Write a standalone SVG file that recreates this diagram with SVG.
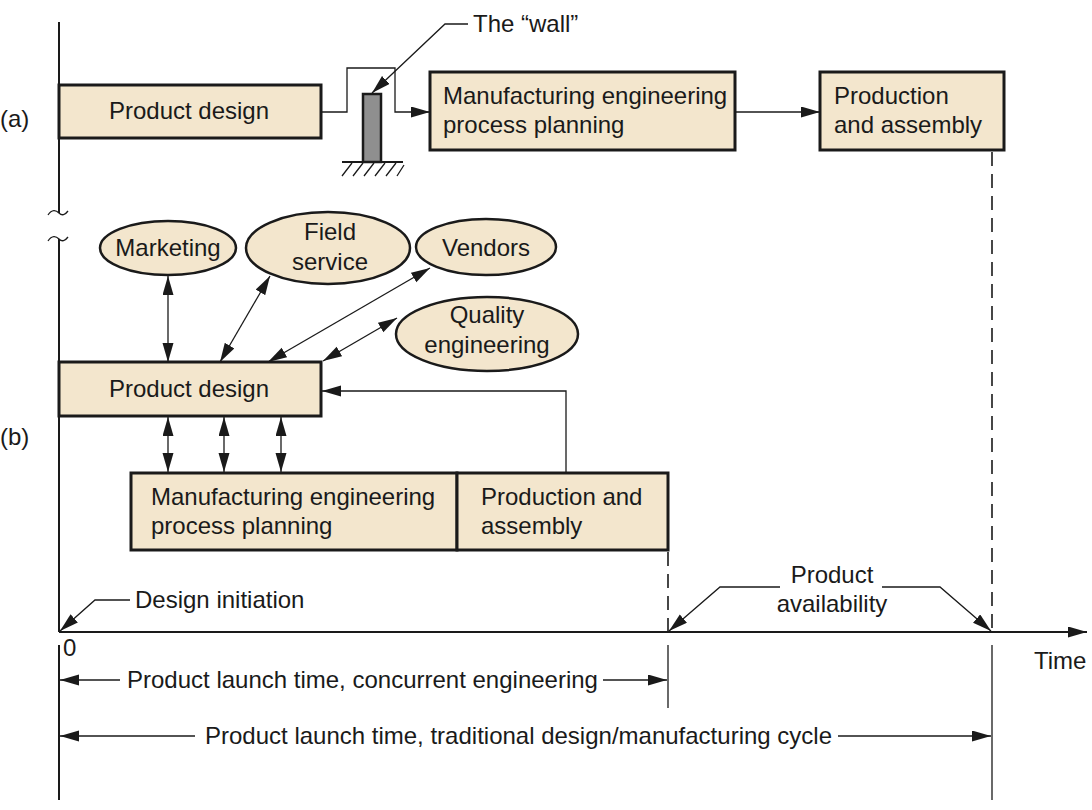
<svg xmlns="http://www.w3.org/2000/svg" width="1092" height="810" viewBox="0 0 1092 810">
<defs>
<marker id="ah" markerUnits="userSpaceOnUse" markerWidth="20" markerHeight="12" refX="19" refY="5.5" orient="auto-start-reverse">
<path d="M0,0 L19,5.5 L0,11 z" fill="#1a1a1a"/>
</marker>
</defs>
<style>
text{font-family:"Liberation Sans",Arial,sans-serif;font-size:24px;fill:#1a1a1a}
.box{fill:#f3e6cd;stroke:#1a1a1a;stroke-width:3}
.ell{fill:#f3e6cd;stroke:#1a1a1a;stroke-width:2.5}
.ln{fill:none;stroke:#1a1a1a;stroke-width:1.3}
.ax{fill:none;stroke:#1a1a1a;stroke-width:2}
.dash{fill:none;stroke:#1a1a1a;stroke-width:1.6;stroke-dasharray:14,8}
.c{text-anchor:middle}
</style>
<rect width="1092" height="810" fill="#ffffff"/>

<g id="axes">
<path class="ax" d="M59,22 V213 M59,239 V632 M59,645 V800"/>
<path class="ln" d="M48,215 C52,209 56,210 59,213 C62,216 65,215 68,211"/>
<path class="ln" d="M48,241 C52,235 56,236 59,239 C62,242 65,241 68,237"/>
<line class="ax" x1="59" y1="632" x2="1087" y2="632" marker-end="url(#ah)"/>
<path class="dash" d="M668,552 V632"/>
<path class="ln" d="M668,645 V708"/>
<path class="dash" d="M992,152 V632"/>
<path class="ln" d="M992,645 V800"/>
<text x="0" y="127">(a)</text>
<text x="0" y="445">(b)</text>
<text x="63" y="656">0</text>
<text x="1034" y="669">Time</text>
</g>

<g id="wall">
<rect x="363" y="94" width="18" height="68" fill="#8f8f8f" stroke="#1a1a1a" stroke-width="2.5"/>
<line x1="342" y1="162" x2="403" y2="162" stroke="#1a1a1a" stroke-width="2"/>
<path class="ln" d="M352,163 L342,176 M363,163 L353,176 M374,163 L364,176 M385,163 L375,176 M396,163 L386,176 M404,165 L397,176"/>
<text x="473" y="32">The “wall”</text>
</g>

<g id="a-product-design">
<rect class="box" x="59" y="85" width="262" height="53"/>
<text class="c" x="189" y="119">Product design</text>
</g>
<g id="a-manufacturing">
<rect class="box" x="430" y="72" width="305" height="78"/>
<text x="443" y="104">Manufacturing engineering</text>
<text x="443" y="133">process planning</text>
</g>
<g id="a-production">
<rect class="box" x="820" y="72" width="184" height="78"/>
<text x="834" y="104">Production</text>
<text x="834" y="133">and assembly</text>
</g>

<g id="marketing">
<ellipse class="ell" cx="168" cy="248" rx="68" ry="27"/>
<text class="c" x="168" y="256">Marketing</text>
</g>
<g id="field-service">
<ellipse class="ell" cx="328" cy="248" rx="82" ry="36"/>
<text class="c" x="330" y="240">Field</text>
<text class="c" x="330" y="270">service</text>
</g>
<g id="vendors">
<ellipse class="ell" cx="486" cy="247" rx="70" ry="28"/>
<text class="c" x="486" y="256">Vendors</text>
</g>
<g id="quality">
<ellipse class="ell" cx="487" cy="334" rx="91" ry="37"/>
<text class="c" x="487" y="323">Quality</text>
<text class="c" x="487" y="353">engineering</text>
</g>
<g id="b-product-design">
<rect class="box" x="59" y="362" width="262" height="54"/>
<text class="c" x="189" y="397">Product design</text>
</g>
<g id="b-manufacturing">
<rect class="box" x="131" y="473" width="326" height="77"/>
<text x="151" y="505">Manufacturing engineering</text>
<text x="151" y="534">process planning</text>
</g>
<g id="b-production">
<rect class="box" x="457" y="473" width="211" height="77"/>
<text x="481" y="505">Production and</text>
<text x="481" y="534">assembly</text>
</g>

<g id="connectors">
<polyline class="ln" points="321,112 347,112 347,68 395,68 395,112 430,112" marker-end="url(#ah)"/>
<polyline class="ln" points="468,24 445,24 372,93" marker-end="url(#ah)"/>
<line class="ln" x1="735" y1="112" x2="820" y2="112" marker-end="url(#ah)"/>
<line class="ln" x1="168" y1="276" x2="168" y2="362" marker-start="url(#ah)" marker-end="url(#ah)"/>
<line class="ln" x1="270" y1="276" x2="220" y2="362" marker-start="url(#ah)" marker-end="url(#ah)"/>
<line class="ln" x1="430" y1="268" x2="268" y2="362" marker-start="url(#ah)" marker-end="url(#ah)"/>
<line class="ln" x1="397" y1="318" x2="323" y2="361" marker-start="url(#ah)" marker-end="url(#ah)"/>
<polyline class="ln" points="566,473 566,391 322,391" marker-end="url(#ah)"/>
<line class="ln" x1="168" y1="417" x2="168" y2="472" marker-start="url(#ah)" marker-end="url(#ah)"/>
<line class="ln" x1="224" y1="417" x2="224" y2="472" marker-start="url(#ah)" marker-end="url(#ah)"/>
<line class="ln" x1="281" y1="417" x2="281" y2="472" marker-start="url(#ah)" marker-end="url(#ah)"/>
<polyline class="ln" points="130,600 95,600 60,631" marker-end="url(#ah)"/>
<polyline class="ln" points="780,587 720,587 669,631" marker-end="url(#ah)"/>
<polyline class="ln" points="882,587 940,587 991,631" marker-end="url(#ah)"/>
<line class="ln" x1="120" y1="680" x2="60" y2="680" marker-end="url(#ah)"/>
<line class="ln" x1="603" y1="680" x2="667" y2="680" marker-end="url(#ah)"/>
<line class="ln" x1="195" y1="736" x2="60" y2="736" marker-end="url(#ah)"/>
<line class="ln" x1="838" y1="736" x2="991" y2="736" marker-end="url(#ah)"/>
</g>

<g id="labels">
<text x="135" y="608">Design initiation</text>
<text class="c" x="832" y="583">Product</text>
<text class="c" x="832" y="612">availability</text>
<text x="127" y="688">Product launch time, concurrent engineering</text>
<text x="205" y="744">Product launch time, traditional design/manufacturing cycle</text>
</g>
</svg>
